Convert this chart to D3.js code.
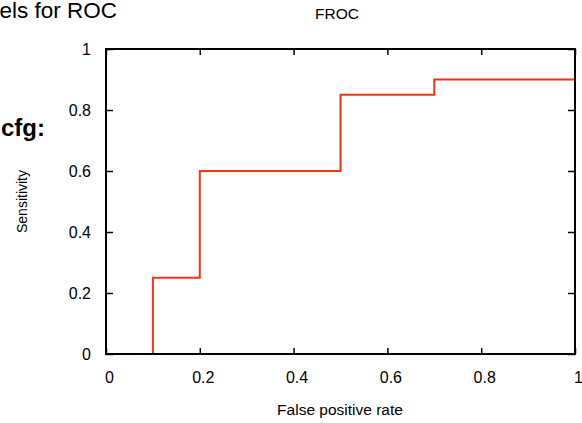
<!DOCTYPE html>
<html>
<head>
<meta charset="utf-8">
<script src="https://cdn.jsdelivr.net/npm/d3@7"></script>
<style>
  body { margin: 0; background: #fff; }
  svg { display: block; font-family: "Liberation Sans", Arial, sans-serif; }
  .axis path, .axis line { stroke: #000; }
</style>
</head>
<body>
<svg width="582" height="423"></svg>
<script>
'use strict';

// data: FROC curve (step after)
var fpr = [0, 0.1, 0.2, 0.5, 0.7, 1];
var sensitivity = [0, 0.25, 0.6, 0.85, 0.9, 0.9];
var xTicks = [0, 0.2, 0.4, 0.6, 0.8, 1];
var yTicks = [0, 0.2, 0.4, 0.6, 0.8, 1];

var svg = d3.select('svg'),
    plotLeft = 106, plotRight = 575, plotTop = 49, plotBottom = 354;

var x = d3.scaleLinear().domain([0, 1]).range([plotLeft, plotRight]);
var y = d3.scaleLinear().domain([0, 1]).range([plotBottom, plotTop]);

// stray texts from the neighbouring panel
svg.append('text')
    .attr('x', 117).attr('y', 18)
    .attr('text-anchor', 'end')
    .style('font-size', '22.5px')
    .text('Labels for ROC');
svg.append('text')
    .attr('x', 45).attr('y', 136)
    .attr('text-anchor', 'end')
    .style('font-size', '24px')
    .style('font-weight', 'bold')
    .text('cfg:');

// title
svg.append('text')
    .attr('x', 337).attr('y', 19)
    .attr('text-anchor', 'middle')
    .style('font-size', '15.5px')
    .text('FROC');

// curve (drawn under the frame)
var line = d3.line()
    .x(function(d, i) { return x(fpr[i]); })
    .y(function(d) { return y(d); })
    .curve(d3.curveStepAfter);
svg.append('path')
    .datum(sensitivity)
    .attr('d', line)
    .attr('fill', 'none')
    .attr('stroke', '#ff3010')
    .attr('stroke-width', 2);

// axes, ticks pointing inward
function fmt(d) { return d3.format('~g')(d); }
svg.append('g').attr('class', 'axis')
    .attr('transform', 'translate(0,' + plotBottom + ')')
    .call(d3.axisBottom(x).tickValues(xTicks).tickFormat(fmt).tickSizeInner(-6).tickSizeOuter(0).tickPadding(17.5))
    .call(function(g) {
        g.select('.domain').remove();
        g.selectAll('text').style('font-size', '16px').attr('dx', 3);
    });
svg.append('g').attr('class', 'axis')
    .attr('transform', 'translate(0,' + plotTop + ')')
    .call(d3.axisTop(x).tickValues(xTicks).tickFormat('').tickSizeInner(-6).tickSizeOuter(0))
    .call(function(g) { g.select('.domain').remove(); });
svg.append('g').attr('class', 'axis')
    .attr('transform', 'translate(' + plotLeft + ',0)')
    .call(d3.axisLeft(y).tickValues(yTicks).tickFormat(fmt).tickSizeInner(-7).tickSizeOuter(0).tickPadding(15))
    .call(function(g) { g.select('.domain').remove(); g.selectAll('text').style('font-size', '16px'); });
svg.append('g').attr('class', 'axis')
    .attr('transform', 'translate(' + plotRight + ',0)')
    .call(d3.axisRight(y).tickValues(yTicks).tickFormat('').tickSizeInner(-7).tickSizeOuter(0))
    .call(function(g) { g.select('.domain').remove(); });

svg.selectAll('.axis .tick line').attr('stroke-width', 1.5);

// frame
svg.append('rect')
    .attr('x', plotLeft).attr('y', plotTop)
    .attr('width', plotRight - plotLeft).attr('height', plotBottom - plotTop)
    .attr('fill', 'none').attr('stroke', '#000').attr('stroke-width', 2);

// axis labels
svg.append('text')
    .attr('x', 340).attr('y', 415)
    .attr('text-anchor', 'middle')
    .style('font-size', '15.5px')
    .text('False positive rate');
svg.append('text')
    .attr('transform', 'translate(27,' + (plotTop + plotBottom) / 2 + ') rotate(-90)')
    .attr('text-anchor', 'middle')
    .style('font-size', '14px')
    .text('Sensitivity');
</script>
</body>
</html>
